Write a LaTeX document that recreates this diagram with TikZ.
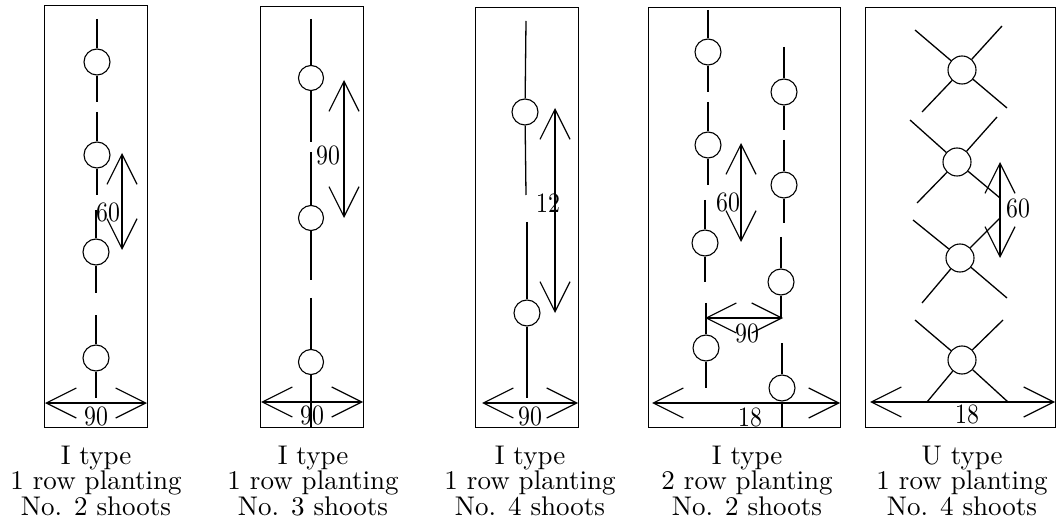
\documentclass[tikz,border=0pt]{standalone}
\usepackage{fontspec}
\setmainfont{lmroman10-regular}[Extension=.otf]
\usetikzlibrary{arrows.meta}
\begin{document}
\begin{tikzpicture}[x=1pt,y=-1pt,
  panel/.style={draw, line width=0.9pt},
  plant/.style={circle, draw, fill=white, minimum size=26pt, inner sep=0pt, line width=1.1pt},
  bigplant/.style={plant, minimum size=28pt},
  stem/.style={line width=1.3pt},
  dim/.style={line width=1.2pt, {Straight Barb[length=30pt,width=30pt]}-{Straight Barb[length=30pt,width=30pt]}},
  lbl/.style={font=\fontsize{28}{28}\selectfont, inner sep=0pt},
  captxt/.style={font=\fontsize{27}{23.3}\selectfont, align=center, anchor=north, inner sep=0pt}]
\useasboundingbox (0,0) rectangle (1059,518);

% ---------- Panel 1 ----------
\draw[panel] (44,5) rectangle (147,427);
\node[plant] (a1) at (97,62) {};
\node[plant] (a2) at (97,155) {};
\node[plant] (a3) at (96,252) {};
\node[plant] (a4) at (96,358) {};
\coordinate (a0t) at (97,19);
\coordinate (a1b) at (97,102);  \coordinate (a2t) at (97,112);
\coordinate (a2b) at (97,195);  \coordinate (a3t) at (96,210);
\coordinate (a3b) at (96,293);  \coordinate (a4t) at (96,315);
\coordinate (a4b) at (96,398);
\draw[stem] (a0t) -- (a1); \draw[stem] (a1) -- (a1b);
\draw[stem] (a2t) -- (a2); \draw[stem] (a2) -- (a2b);
\draw[stem] (a3t) -- (a3); \draw[stem] (a3) -- (a3b);
\draw[stem] (a4t) -- (a4); \draw[stem] (a4) -- (a4b);
\coordinate (av1) at (122,153); \coordinate (av2) at (122,250);
\draw[dim] (av1) -- (av2);
\node[lbl] (al) at (108,212) {\scalebox{0.85}[1]{60}};
\coordinate (ah1) at (45,403); \coordinate (ah2) at (147,403);
\draw[dim] (ah1) -- (ah2);
\node[lbl] (ahl) at (96,416) {\scalebox{0.85}[1]{90}};
\node[captxt] (acap) at (96,446) {I type\\1 row planting\\No. 2 shoots};

% ---------- Panel 2 ----------
\draw[panel] (260,6) rectangle (363,427);
\node[plant, minimum size=25pt] (b1) at (311,78) {};
\node[plant, minimum size=25pt] (b2) at (311,218) {};
\node[plant, minimum size=25pt] (b3) at (311,362) {};
\coordinate (b0t) at (311,19);
\coordinate (b1b) at (311,142); \coordinate (b2t) at (311,152);
\coordinate (b2b) at (311,280); \coordinate (b3t) at (311,298);
\coordinate (b3b) at (311,427);
\draw[stem] (b0t) -- (b1); \draw[stem] (b1) -- (b1b);
\draw[stem] (b2t) -- (b2); \draw[stem] (b2) -- (b2b);
\draw[stem] (b3t) -- (b3); \draw[stem] (b3) -- (b3b);
\coordinate (bv1) at (344,80); \coordinate (bv2) at (344,218);
\draw[dim] (bv1) -- (bv2);
\node[lbl] (bl) at (328,155) {\scalebox{0.85}[1]{90}};
\coordinate (bh1) at (261,402); \coordinate (bh2) at (363,402);
\draw[dim] (bh1) -- (bh2);
\node[lbl] (bhl) at (312,415) {\scalebox{0.85}[1]{90}};
\node[captxt] (bcap) at (313,446) {I type\\1 row planting\\No. 3 shoots};

% ---------- Panel 3 ----------
\draw[panel] (475,7) rectangle (578,427);
\node[plant] (c1) at (525,112) {};
\node[plant] (c2) at (527,313) {};
\coordinate (c0t) at (526,21);
\coordinate (c1b) at (526,195); \coordinate (c2t) at (527,222);
\coordinate (c2b) at (527,398);
\draw[stem] (c0t) -- (c1); \draw[stem] (c1) -- (c1b);
\draw[stem] (c2t) -- (c2); \draw[stem] (c2) -- (c2b);
\coordinate (cv1) at (555,108); \coordinate (cv2) at (555,313);
\draw[dim] (cv1) -- (cv2);
\node[lbl] (cl) at (548,203) {\scalebox{0.85}[1]{12}};
\coordinate (ch1) at (482,403); \coordinate (ch2) at (578,403);
\draw[dim] (ch1) -- (ch2);
\node[lbl] (chl) at (530,416) {\scalebox{0.85}[1]{90}};
\node[captxt] (ccap) at (530,446) {I type\\1 row planting\\No. 4 shoots};

% ---------- Panel 4 ----------
\draw[panel] (648,7) rectangle (840,427);
\node[plant] (l1) at (708,52) {};
\node[plant] (l2) at (708,145) {};
\node[plant] (l3) at (705,243) {};
\node[plant] (l4) at (706,348) {};
\node[plant] (r1) at (784,92) {};
\node[plant] (r2) at (784,185) {};
\node[plant] (r3) at (781,282) {};
\node[plant] (r4) at (782,388) {};
\coordinate (l0t) at (708,10);
\coordinate (l1b) at (708,92);  \coordinate (l2t) at (708,102);
\coordinate (l2b) at (708,185); \coordinate (l3t) at (705,200);
\coordinate (l3b) at (705,282); \coordinate (l4t) at (706,303);
\coordinate (l4b) at (706,388);
\draw[stem] (l0t) -- (l1); \draw[stem] (l1) -- (l1b);
\draw[stem] (l2t) -- (l2); \draw[stem] (l2) -- (l2b);
\draw[stem] (l3t) -- (l3); \draw[stem] (l3) -- (l3b);
\draw[stem] (l4t) -- (l4); \draw[stem] (l4) -- (l4b);
\coordinate (r0t) at (784,47);
\coordinate (r1b) at (784,130); \coordinate (r2t) at (784,140);
\coordinate (r2b) at (784,223); \coordinate (r3t) at (781,237);
\coordinate (r3b) at (781,318); \coordinate (r4t) at (782,343);
\coordinate (r4b) at (782,427);
\draw[stem] (r0t) -- (r1); \draw[stem] (r1) -- (r1b);
\draw[stem] (r2t) -- (r2); \draw[stem] (r2) -- (r2b);
\draw[stem] (r3t) -- (r3); \draw[stem] (r3) -- (r3b);
\draw[stem] (r4t) -- (r4); \draw[stem] (r4) -- (r4b);
\coordinate (dv1) at (741,143); \coordinate (dv2) at (741,242);
\draw[dim] (dv1) -- (dv2);
\node[lbl] (dl) at (728,202) {\scalebox{0.85}[1]{60}};
\coordinate (dm1) at (705,318); \coordinate (dm2) at (783,318);
\draw[dim] (dm1) -- (dm2);
\node[lbl] (dml) at (747,333) {\scalebox{0.85}[1]{90}};
\coordinate (dh1) at (652,403); \coordinate (dh2) at (840,403);
\draw[dim] (dh1) -- (dh2);
\node[lbl] (dhl) at (750,417) {\scalebox{0.85}[1]{18}};
\node[captxt] (dcap) at (747,446) {I type\\2 row planting\\No. 2 shoots};

% ---------- Panel 5 ----------
\draw[panel] (865,7) rectangle (1055,427);
\node[bigplant] (u1) at (962,70) {};
\node[bigplant] (u2) at (957,162) {};
\node[bigplant] (u3) at (960,258) {};
\node[bigplant] (u4) at (962,360) {};
\coordinate (u1ul) at (915,30);  \coordinate (u1ur) at (1002,26);
\coordinate (u1ll) at (922,112); \coordinate (u1lr) at (1007,108);
\coordinate (u2ul) at (910,120); \coordinate (u2ur) at (997,117);
\coordinate (u2ll) at (917,203); \coordinate (u2lr) at (1000,198);
\coordinate (u3ul) at (913,220); \coordinate (u3ur) at (1000,218);
\coordinate (u3ll) at (922,303); \coordinate (u3lr) at (1007,298);
\coordinate (u4ul) at (915,320); \coordinate (u4ur) at (1003,320);
\coordinate (u4ll) at (927,402); \coordinate (u4lr) at (1008,402);
\foreach \u in {u1,u2,u3,u4}{
  \draw[stem] (\u) -- (\u ul); \draw[stem] (\u) -- (\u ur);
  \draw[stem] (\u) -- (\u ll); \draw[stem] (\u) -- (\u lr);
}
\coordinate (ev1) at (1000,162); \coordinate (ev2) at (1000,258);
\draw[dim] (ev1) -- (ev2);
\node[lbl] (el) at (1018,208) {\scalebox{0.85}[1]{60}};
\coordinate (eh1) at (870,402); \coordinate (eh2) at (1055,402);
\draw[dim] (eh1) -- (eh2);
\node[lbl] (ehl) at (967,414) {\scalebox{0.85}[1]{18}};
\node[captxt] (ecap) at (962,446) {U type\\1 row planting\\No. 4 shoots};
\end{tikzpicture}
\end{document}
